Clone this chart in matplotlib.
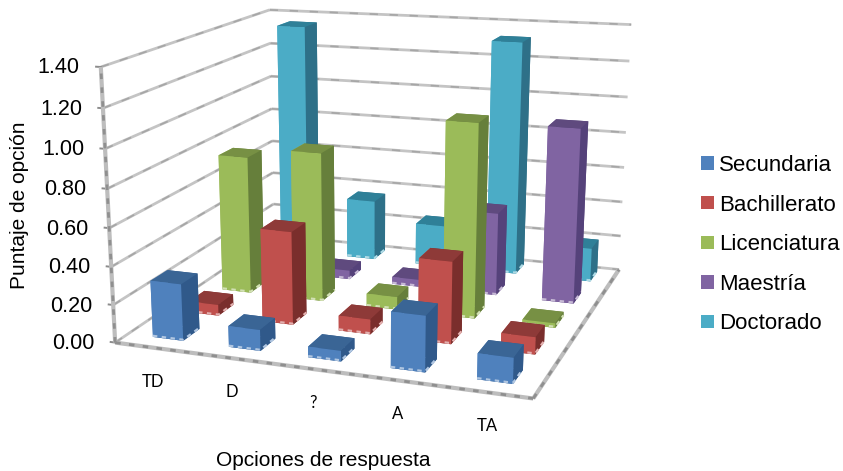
import numpy as np
import matplotlib
matplotlib.use("Agg")
import matplotlib.pyplot as plt
from matplotlib.colors import to_rgb
from matplotlib.patches import Patch
from mpl_toolkits.mplot3d import Axes3D  # noqa: F401

categories = ["TD", "D", "?", "A", "TA"]
series = ["Secundaria", "Bachillerato", "Licenciatura", "Maestría", "Doctorado"]
secundaria = [0.30, 0.11, 0.055, 0.285, 0.13]
bachillerato = [0.06, 0.50, 0.08, 0.43, 0.09]
licenciatura = [0.765, 0.82, 0.07, 1.04, 0.025]
maestria = [0.00, 0.05, 0.04, 0.46, 0.955]
doctorado = [1.35, 0.35, 0.24, 1.32, 0.19]
values = [secundaria, bachillerato, licenciatura, maestria, doctorado]
ticks = [0.0, 0.2, 0.4, 0.6, 0.8, 1.0, 1.2, 1.4]

front_colors = ["#4F81BD", "#C0504D", "#9BBB59", "#8064A2", "#4BACC6"]
top_colors = ["#3A6595", "#8E3A38", "#779044", "#5F4A7E", "#2F8098"]
side_colors = ["#30598A", "#7A2E2C", "#667F3B", "#55427A", "#2E7088"]

W, H = 843, 471
fig = plt.figure(figsize=(W / 100, H / 100), dpi=100)
# mplot3d keeps its axes square, so the square is made wide enough to span the figure
ax = fig.add_axes([0, 0.5 - W / H / 2, 1, W / H], projection="3d")
ax.set_axis_off()
ax.computed_zorder = False

# Camera solved from where the chart box corners fall on the canvas
n_cat, n_ser, z_max = len(categories), len(series), ticks[-1]
box_world = [(0, 0, 0), (n_cat, 0, 0), (n_cat, n_ser, 0),
             (0, 0, z_max), (0, n_ser, z_max), (n_cat, n_ser, z_max)]
box_canvas = [(116, 344), (531, 400), (620, 267), (102, 64), (268, 11), (632, 26)]
rows = []
for (x, y, z), (u, v) in zip(box_world, box_canvas):
    rows.append([x, y, z, 1, 0, 0, 0, 0, -u * x, -u * y, -u * z, -u])
    rows.append([0, 0, 0, 0, x, y, z, 1, -v * x, -v * y, -v * z, -v])
camera = np.linalg.svd(np.array(rows, dtype=float))[2][-1].reshape(3, 4)
if camera[2] @ np.array([2.5, 2.5, 0.7, 1]) < 0:
    camera = -camera
flip = np.array([[1, 0, 0], [0, -1, H], [0, 0, 1]], dtype=float)


def fixed_projection():
    p = ax.transData.inverted().get_matrix() @ flip @ camera
    return np.vstack([p[0], p[1], [0, 0, 0, -1], p[2]])


def canvas_point(x, y, z):
    u, v, w = camera @ np.array([x, y, z, 1.0])
    return u / w, v / w


def canvas_text(u, v, label, **kwargs):
    fig.text(u / W, 1 - v / H, label, **kwargs)


ax.get_proj = fixed_projection

# Walls, gridlines and floor edges
grid = dict(color="#c4c4c4", lw=2.0, zorder=1, solid_capstyle="butt")
speck = dict(color="#a6a6a6", lw=1.2, zorder=1.1, linestyle=(0, (5, 7)))
for t in ticks:
    for style in (grid, speck):
        ax.plot([0, 0], [0, n_ser], [t, t], **style)
        ax.plot([0, n_cat], [n_ser, n_ser], [t, t], **style)
    ax.plot([-0.06, 0], [0, 0], [t, t], color="#8c8c8c", lw=1.4, zorder=1.2)
    u, v = canvas_point(0, 0, t)
    canvas_text(u - 21, v + 1, f"{t:.2f}", ha="right", va="center", fontsize=15.5,
                family="Liberation Sans", color="black")
edge = dict(color="#bdbdbd", lw=3.0, zorder=1.3, solid_capstyle="butt")
edge_speck = dict(color="#8f8f8f", lw=2.0, zorder=1.4, linestyle=(0, (2, 3)))
for style in (edge, edge_speck):
    ax.plot([0, n_cat], [0, 0], [0, 0], **style)
    ax.plot([n_cat, n_cat], [0, n_ser], [0, 0], **style)
    ax.plot([0, 0], [0, 0], [0, z_max], **style)

# Bars, painted from the back row forward and left to right
bar_w, bar_d = 0.40, 0.46
gap_x, gap_y = 0.33, 0.34
pitch, row_skew = 0.992, 0.012
for s in reversed(range(n_ser)):
    pale = tuple(0.45 * a + 0.55 for a in to_rgb(front_colors[s]))
    for c in range(n_cat):
        if values[s][c] <= 0:
            continue
        face = [side_colors[s], top_colors[s], front_colors[s],
                side_colors[s], front_colors[s], side_colors[s]]
        order = 10 + (n_ser - s) * 10 + c
        x0, y0 = c * pitch + gap_x + s * row_skew, s + gap_y
        ax.bar3d(x0, y0, 0, bar_w, bar_d, values[s][c], color=face, shade=False, zorder=order)
        # Pale bevel along the foot of the bar
        ax.plot([x0, x0 + bar_w, x0 + bar_w], [y0, y0, y0 + bar_d], [0.006] * 3,
                color=pale, lw=1.6, linestyle=(0, (2, 2)), zorder=order + 0.5)

for c, name in enumerate(categories):
    u, v = canvas_point(c + 0.5, 0, 0)
    canvas_text(u, v + 34, name, ha="center", va="center", fontsize=12,
                family="Lato", color="black")

canvas_text(20, 205, "Puntaje de opción", rotation=90, ha="center", va="center",
            fontsize=15, family="Liberation Sans")
canvas_text(323.5, 460, "Opciones de respuesta", ha="center", va="center",
            fontsize=15, family="Liberation Sans")

handles = [Patch(facecolor=col, edgecolor="none") for col in front_colors]
fig.legend(handles, series, loc="upper left", bbox_to_anchor=(701 / W, 1 - 155 / H),
           frameon=False, ncol=1, prop={"family": "Liberation Sans", "size": 16},
           handlelength=0.58, handleheight=0.55, handletextpad=0.24, labelspacing=0.835,
           borderpad=0, borderaxespad=0)

fig.savefig("out.png", dpi=100)
